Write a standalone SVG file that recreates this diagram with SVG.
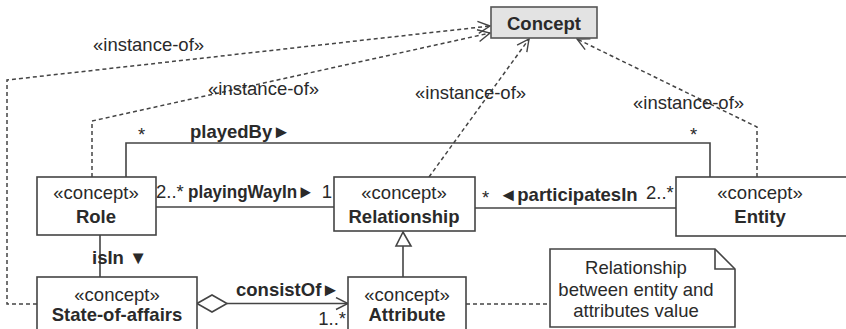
<svg xmlns="http://www.w3.org/2000/svg" width="846" height="329" viewBox="0 0 846 329">
  <defs>
    <style>
      .box { fill: #ffffff; stroke: #444; stroke-width: 1.6; }
      .meta { fill: #e3e3e3; stroke: #555; stroke-width: 1.6; }
      .line { fill: none; stroke: #444; stroke-width: 1.6; }
      .dash { fill: none; stroke: #444; stroke-width: 1.5; stroke-dasharray: 4 3; }
      text { font-family: "Liberation Sans", Arial, sans-serif; font-size: 18.5px; fill: #2a2a2a; }
      .b { font-weight: bold; }
      .c { text-anchor: middle; }
      .e { text-anchor: end; }
    </style>
    <marker id="open" viewBox="0 0 14 14" refX="13" refY="7" markerWidth="14" markerHeight="14" markerUnits="userSpaceOnUse" orient="auto">
      <path d="M1,1 L13,7 L1,13" fill="none" stroke="#444" stroke-width="1.4"/>
    </marker>
  </defs>

  <!-- connectors -->
  <g id="connectors">
    <!-- instance-of dependencies -->
    <polyline class="dash" points="37,304 7,304 7,80 490,26" marker-end="url(#open)"/>
    <polyline class="dash" points="92,177 92,121 490,33" marker-end="url(#open)"/>
    <line class="dash" x1="429" y1="177" x2="529" y2="39" marker-end="url(#open)"/>
    <polyline class="dash" points="757,177 757,127 577,39" marker-end="url(#open)"/>
    <!-- playedBy -->
    <polyline class="line" points="126,177 126,143 710,143 710,177"/>
    <!-- playingWayIn -->
    <line class="line" x1="156" y1="207" x2="334" y2="207"/>
    <!-- participatesIn -->
    <line class="line" x1="475" y1="208" x2="676" y2="208"/>
    <!-- isIn -->
    <line class="line" x1="100" y1="235" x2="100" y2="277"/>
    <!-- generalization Attribute -> Relationship -->
    <line class="line" x1="403" y1="246" x2="403" y2="277"/>
    <polygon class="box" points="403,232 396,246 411,246"/>
    <!-- consistOf aggregation -->
    <polygon class="box" points="197,303.5 212,295 227,303.5 212,312"/>
    <line class="line" x1="227" y1="303.5" x2="348" y2="303.5" marker-end="url(#open)"/>
    <!-- note anchor -->
    <line class="dash" x1="466" y1="304" x2="550" y2="304"/>
  </g>

  <!-- connector labels -->
  <g id="labels">
    <text x="93" y="51">«instance-of»</text>
    <text x="208" y="95">«instance-of»</text>
    <text x="415" y="99">«instance-of»</text>
    <text x="633" y="109">«instance-of»</text>
    <text x="138" y="141">*</text>
    <text class="b" x="190" y="138">playedBy►</text>
    <text x="690" y="141">*</text>
    <text x="156" y="198">2..*</text>
    <text class="b" x="188" y="198" textLength="126" lengthAdjust="spacingAndGlyphs">playingWayIn►</text>
    <text class="e" x="332" y="198">1</text>
    <text x="482" y="204">*</text>
    <text class="b" x="499" y="201">◄participatesIn</text>
    <text x="646" y="199">2..*</text>
    <text class="b" x="92" y="264">isIn ▼</text>
    <text class="b" x="236" y="296">consistOf►</text>
    <text class="e" x="346" y="325">1..*</text>
  </g>

  <g id="concept">
    <rect class="meta" x="491" y="7" width="106" height="31"/>
    <text class="b c" x="544" y="30">Concept</text>
  </g>

  <g id="role">
    <rect class="box" x="37" y="177" width="119" height="58"/>
    <text class="c" x="96" y="199">«concept»</text>
    <text class="b c" x="96" y="223">Role</text>
  </g>

  <g id="relationship">
    <rect class="box" x="334" y="177" width="141" height="54"/>
    <text class="c" x="404" y="199">«concept»</text>
    <text class="b c" x="404" y="223">Relationship</text>
  </g>

  <g id="entity">
    <rect class="box" x="676" y="177" width="180" height="59"/>
    <text class="c" x="760" y="199">«concept»</text>
    <text class="b c" x="760" y="223">Entity</text>
  </g>

  <g id="state-of-affairs">
    <rect class="box" x="37" y="277" width="160" height="60"/>
    <text class="c" x="117" y="301">«concept»</text>
    <text class="b c" x="117" y="321">State-of-affairs</text>
  </g>

  <g id="attribute">
    <rect class="box" x="348" y="277" width="118" height="60"/>
    <text class="c" x="407" y="301">«concept»</text>
    <text class="b c" x="407" y="321">Attribute</text>
  </g>

  <g id="note">
    <path class="box" d="M550,249 L715,249 L735,269 L735,327 L550,327 Z"/>
    <path class="line" d="M715,249 L715,269 L735,269"/>
    <text class="c" x="636" y="274">Relationship</text>
    <text class="c" x="636" y="296">between entity and</text>
    <text class="c" x="636" y="317">attributes value</text>
  </g>
</svg>
